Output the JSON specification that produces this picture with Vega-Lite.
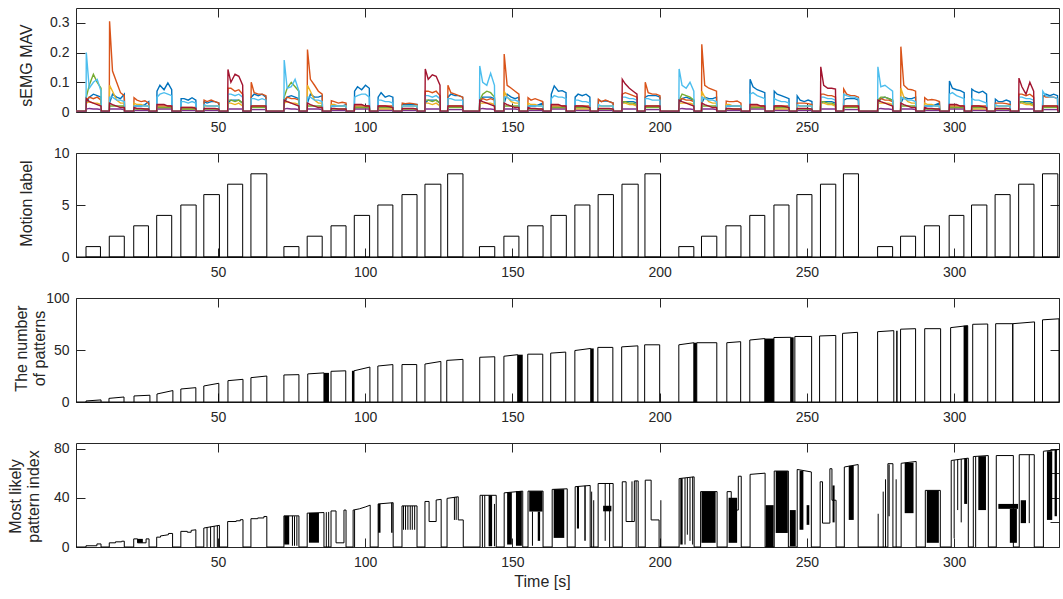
{
"$schema":"https://vega.github.io/schema/vega-lite/v6.json",
"padding":{"left":7,"top":7,"right":5,"bottom":5},
"background":"white",
"spacing":41,
"bounds":"flush",
"config":{
 "font":"Liberation Sans",
 "view":{"stroke":null},
 "axis":{"labelFont":"Liberation Sans","titleFont":"Liberation Sans","labelFontSize":14,"titleFontSize":16,"titleFontWeight":"normal","labelColor":"#262626","titleColor":"#262626","domainColor":"#262626","domainWidth":1,"tickColor":"#262626","tickWidth":1,"tickSize":-9,"labelPadding":16,"grid":false}
},
"datasets":{
"emg":[
{"t":1.8,"a":0.002,"b":0.002,"c":0.002,"d":0.002,"e":0.002,"f":0.002,"g":0.003},
{"t":5.2,"a":0.002,"b":0.002,"c":0.002,"d":0.002,"e":0.002,"f":0.002,"g":0.003},
{"t":5.3,"a":0.03,"b":0.04,"c":0.03,"d":0.01,"e":0.05,"f":0.2,"g":0.045},
{"t":6.3,"a":0.05,"b":0.05,"c":0.035,"d":0.012,"e":0.09,"f":0.08,"g":0.035},
{"t":7.7,"a":0.06,"b":0.045,"c":0.03,"d":0.01,"e":0.127,"f":0.1,"g":0.03},
{"t":9.0,"a":0.055,"b":0.05,"c":0.03,"d":0.01,"e":0.1,"f":0.11,"g":0.025},
{"t":10.3,"a":0.05,"b":0.04,"c":0.025,"d":0.008,"e":0.08,"f":0.07,"g":0.02},
{"t":10.4,"a":0.002,"b":0.002,"c":0.002,"d":0.002,"e":0.002,"f":0.002,"g":0.003},
{"t":13.1,"a":0.002,"b":0.002,"c":0.002,"d":0.002,"e":0.002,"f":0.002,"g":0.003},
{"t":13.2,"a":0.03,"b":0.305,"c":0.09,"d":0.01,"e":0.02,"f":0.05,"g":0.03},
{"t":14.2,"a":0.06,"b":0.138,"c":0.07,"d":0.01,"e":0.02,"f":0.05,"g":0.025},
{"t":15.6,"a":0.05,"b":0.1,"c":0.04,"d":0.01,"e":0.02,"f":0.04,"g":0.02},
{"t":16.9,"a":0.045,"b":0.065,"c":0.03,"d":0.01,"e":0.02,"f":0.04,"g":0.015},
{"t":18.2,"a":0.06,"b":0.055,"c":0.03,"d":0.008,"e":0.02,"f":0.035,"g":0.015},
{"t":18.3,"a":0.002,"b":0.002,"c":0.002,"d":0.002,"e":0.002,"f":0.002,"g":0.003},
{"t":21.4,"a":0.002,"b":0.002,"c":0.002,"d":0.002,"e":0.002,"f":0.002,"g":0.003},
{"t":21.5,"a":0.02,"b":0.048,"c":0.03,"d":0.005,"e":0.01,"f":0.02,"g":0.015},
{"t":22.5,"a":0.02,"b":0.04,"c":0.025,"d":0.005,"e":0.01,"f":0.02,"g":0.012},
{"t":23.9,"a":0.02,"b":0.035,"c":0.025,"d":0.005,"e":0.01,"f":0.02,"g":0.012},
{"t":25.2,"a":0.025,"b":0.038,"c":0.02,"d":0.005,"e":0.01,"f":0.02,"g":0.01},
{"t":26.5,"a":0.035,"b":0.03,"c":0.02,"d":0.005,"e":0.01,"f":0.02,"g":0.01},
{"t":26.6,"a":0.002,"b":0.002,"c":0.002,"d":0.002,"e":0.002,"f":0.002,"g":0.003},
{"t":29.2,"a":0.002,"b":0.002,"c":0.002,"d":0.002,"e":0.002,"f":0.002,"g":0.003},
{"t":29.3,"a":0.07,"b":0.02,"c":0.015,"d":0.01,"e":0.015,"f":0.05,"g":0.025},
{"t":30.3,"a":0.09,"b":0.02,"c":0.015,"d":0.01,"e":0.015,"f":0.06,"g":0.025},
{"t":31.7,"a":0.075,"b":0.02,"c":0.015,"d":0.01,"e":0.015,"f":0.065,"g":0.025},
{"t":33.0,"a":0.098,"b":0.02,"c":0.015,"d":0.01,"e":0.015,"f":0.06,"g":0.02},
{"t":34.3,"a":0.075,"b":0.02,"c":0.015,"d":0.01,"e":0.015,"f":0.055,"g":0.02},
{"t":34.4,"a":0.002,"b":0.002,"c":0.002,"d":0.002,"e":0.002,"f":0.002,"g":0.003},
{"t":37.4,"a":0.002,"b":0.002,"c":0.002,"d":0.002,"e":0.002,"f":0.002,"g":0.003},
{"t":37.5,"a":0.045,"b":0.015,"c":0.01,"d":0.005,"e":0.01,"f":0.035,"g":0.015},
{"t":38.5,"a":0.045,"b":0.015,"c":0.01,"d":0.005,"e":0.01,"f":0.035,"g":0.015},
{"t":39.9,"a":0.04,"b":0.015,"c":0.01,"d":0.005,"e":0.01,"f":0.03,"g":0.015},
{"t":41.2,"a":0.048,"b":0.015,"c":0.01,"d":0.005,"e":0.01,"f":0.035,"g":0.015},
{"t":42.5,"a":0.04,"b":0.015,"c":0.01,"d":0.005,"e":0.01,"f":0.03,"g":0.012},
{"t":42.6,"a":0.002,"b":0.002,"c":0.002,"d":0.002,"e":0.002,"f":0.002,"g":0.003},
{"t":45.2,"a":0.002,"b":0.002,"c":0.002,"d":0.002,"e":0.002,"f":0.002,"g":0.003},
{"t":45.3,"a":0.035,"b":0.04,"c":0.02,"d":0.005,"e":0.01,"f":0.025,"g":0.012},
{"t":46.3,"a":0.03,"b":0.035,"c":0.02,"d":0.005,"e":0.01,"f":0.02,"g":0.012},
{"t":47.7,"a":0.035,"b":0.04,"c":0.02,"d":0.005,"e":0.01,"f":0.02,"g":0.012},
{"t":49.0,"a":0.035,"b":0.035,"c":0.02,"d":0.005,"e":0.01,"f":0.02,"g":0.012},
{"t":50.3,"a":0.03,"b":0.03,"c":0.02,"d":0.005,"e":0.01,"f":0.02,"g":0.01},
{"t":50.4,"a":0.002,"b":0.002,"c":0.002,"d":0.002,"e":0.002,"f":0.002,"g":0.003},
{"t":53.3,"a":0.002,"b":0.002,"c":0.002,"d":0.002,"e":0.002,"f":0.002,"g":0.003},
{"t":53.4,"a":0.03,"b":0.08,"c":0.03,"d":0.01,"e":0.04,"f":0.06,"g":0.143},
{"t":54.4,"a":0.04,"b":0.08,"c":0.03,"d":0.01,"e":0.04,"f":0.06,"g":0.1},
{"t":55.8,"a":0.04,"b":0.07,"c":0.025,"d":0.01,"e":0.035,"f":0.055,"g":0.127},
{"t":57.1,"a":0.04,"b":0.075,"c":0.03,"d":0.01,"e":0.04,"f":0.06,"g":0.12},
{"t":58.4,"a":0.03,"b":0.06,"c":0.02,"d":0.01,"e":0.03,"f":0.05,"g":0.09},
{"t":58.5,"a":0.002,"b":0.002,"c":0.002,"d":0.002,"e":0.002,"f":0.002,"g":0.003},
{"t":61.2,"a":0.002,"b":0.002,"c":0.002,"d":0.002,"e":0.002,"f":0.002,"g":0.003},
{"t":61.3,"a":0.05,"b":0.1,"c":0.02,"d":0.008,"e":0.015,"f":0.045,"g":0.02},
{"t":62.3,"a":0.06,"b":0.065,"c":0.02,"d":0.008,"e":0.015,"f":0.045,"g":0.02},
{"t":63.7,"a":0.055,"b":0.06,"c":0.02,"d":0.008,"e":0.015,"f":0.04,"g":0.02},
{"t":65.0,"a":0.06,"b":0.06,"c":0.02,"d":0.008,"e":0.015,"f":0.045,"g":0.02},
{"t":66.3,"a":0.05,"b":0.055,"c":0.02,"d":0.008,"e":0.015,"f":0.04,"g":0.02},
{"t":66.4,"a":0.002,"b":0.002,"c":0.002,"d":0.002,"e":0.002,"f":0.002,"g":0.003},
{"t":72.4,"a":0.002,"b":0.002,"c":0.002,"d":0.002,"e":0.002,"f":0.002,"g":0.003},
{"t":72.5,"a":0.03,"b":0.04,"c":0.03,"d":0.01,"e":0.05,"f":0.175,"g":0.04},
{"t":73.5,"a":0.05,"b":0.05,"c":0.035,"d":0.012,"e":0.08,"f":0.08,"g":0.035},
{"t":74.9,"a":0.055,"b":0.045,"c":0.03,"d":0.01,"e":0.1,"f":0.085,"g":0.03},
{"t":76.2,"a":0.05,"b":0.045,"c":0.03,"d":0.01,"e":0.085,"f":0.11,"g":0.025},
{"t":77.5,"a":0.045,"b":0.04,"c":0.025,"d":0.008,"e":0.07,"f":0.07,"g":0.02},
{"t":77.6,"a":0.002,"b":0.002,"c":0.002,"d":0.002,"e":0.002,"f":0.002,"g":0.003},
{"t":80.3,"a":0.002,"b":0.002,"c":0.002,"d":0.002,"e":0.002,"f":0.002,"g":0.003},
{"t":80.4,"a":0.03,"b":0.21,"c":0.09,"d":0.01,"e":0.02,"f":0.05,"g":0.03},
{"t":81.4,"a":0.06,"b":0.11,"c":0.07,"d":0.01,"e":0.02,"f":0.05,"g":0.025},
{"t":82.8,"a":0.05,"b":0.09,"c":0.04,"d":0.01,"e":0.02,"f":0.04,"g":0.02},
{"t":84.1,"a":0.05,"b":0.07,"c":0.03,"d":0.01,"e":0.02,"f":0.04,"g":0.015},
{"t":85.4,"a":0.055,"b":0.06,"c":0.03,"d":0.008,"e":0.02,"f":0.035,"g":0.015},
{"t":85.5,"a":0.002,"b":0.002,"c":0.002,"d":0.002,"e":0.002,"f":0.002,"g":0.003},
{"t":88.4,"a":0.002,"b":0.002,"c":0.002,"d":0.002,"e":0.002,"f":0.002,"g":0.003},
{"t":88.5,"a":0.02,"b":0.038,"c":0.025,"d":0.005,"e":0.01,"f":0.02,"g":0.012},
{"t":89.5,"a":0.02,"b":0.035,"c":0.025,"d":0.005,"e":0.01,"f":0.02,"g":0.012},
{"t":90.9,"a":0.02,"b":0.03,"c":0.02,"d":0.005,"e":0.01,"f":0.02,"g":0.01},
{"t":92.2,"a":0.02,"b":0.033,"c":0.02,"d":0.005,"e":0.01,"f":0.02,"g":0.01},
{"t":93.5,"a":0.025,"b":0.03,"c":0.02,"d":0.005,"e":0.01,"f":0.02,"g":0.01},
{"t":93.6,"a":0.002,"b":0.002,"c":0.002,"d":0.002,"e":0.002,"f":0.002,"g":0.003},
{"t":96.3,"a":0.002,"b":0.002,"c":0.002,"d":0.002,"e":0.002,"f":0.002,"g":0.003},
{"t":96.4,"a":0.07,"b":0.02,"c":0.015,"d":0.01,"e":0.015,"f":0.05,"g":0.025},
{"t":97.4,"a":0.085,"b":0.02,"c":0.015,"d":0.01,"e":0.015,"f":0.055,"g":0.025},
{"t":98.8,"a":0.075,"b":0.02,"c":0.015,"d":0.01,"e":0.015,"f":0.06,"g":0.025},
{"t":100.1,"a":0.09,"b":0.02,"c":0.015,"d":0.01,"e":0.015,"f":0.06,"g":0.02},
{"t":101.4,"a":0.08,"b":0.02,"c":0.015,"d":0.01,"e":0.015,"f":0.05,"g":0.02},
{"t":101.5,"a":0.002,"b":0.002,"c":0.002,"d":0.002,"e":0.002,"f":0.002,"g":0.003},
{"t":104.3,"a":0.002,"b":0.002,"c":0.002,"d":0.002,"e":0.002,"f":0.002,"g":0.003},
{"t":104.4,"a":0.05,"b":0.02,"c":0.01,"d":0.005,"e":0.015,"f":0.04,"g":0.02},
{"t":105.4,"a":0.065,"b":0.02,"c":0.01,"d":0.005,"e":0.015,"f":0.04,"g":0.02},
{"t":106.8,"a":0.05,"b":0.02,"c":0.01,"d":0.005,"e":0.015,"f":0.035,"g":0.02},
{"t":108.1,"a":0.055,"b":0.02,"c":0.01,"d":0.005,"e":0.015,"f":0.035,"g":0.018},
{"t":109.4,"a":0.05,"b":0.02,"c":0.01,"d":0.005,"e":0.015,"f":0.03,"g":0.015},
{"t":109.5,"a":0.002,"b":0.002,"c":0.002,"d":0.002,"e":0.002,"f":0.002,"g":0.003},
{"t":112.5,"a":0.002,"b":0.002,"c":0.002,"d":0.002,"e":0.002,"f":0.002,"g":0.003},
{"t":112.6,"a":0.025,"b":0.03,"c":0.02,"d":0.005,"e":0.01,"f":0.02,"g":0.012},
{"t":113.6,"a":0.025,"b":0.028,"c":0.02,"d":0.005,"e":0.01,"f":0.02,"g":0.012},
{"t":115.0,"a":0.025,"b":0.03,"c":0.02,"d":0.005,"e":0.01,"f":0.02,"g":0.012},
{"t":116.3,"a":0.025,"b":0.028,"c":0.02,"d":0.005,"e":0.01,"f":0.02,"g":0.012},
{"t":117.6,"a":0.025,"b":0.025,"c":0.02,"d":0.005,"e":0.01,"f":0.02,"g":0.01},
{"t":117.7,"a":0.002,"b":0.002,"c":0.002,"d":0.002,"e":0.002,"f":0.002,"g":0.003},
{"t":120.3,"a":0.002,"b":0.002,"c":0.002,"d":0.002,"e":0.002,"f":0.002,"g":0.003},
{"t":120.4,"a":0.03,"b":0.07,"c":0.03,"d":0.01,"e":0.04,"f":0.055,"g":0.145},
{"t":121.4,"a":0.04,"b":0.07,"c":0.03,"d":0.01,"e":0.04,"f":0.055,"g":0.11},
{"t":122.8,"a":0.04,"b":0.065,"c":0.025,"d":0.01,"e":0.035,"f":0.05,"g":0.125},
{"t":124.1,"a":0.04,"b":0.07,"c":0.03,"d":0.01,"e":0.04,"f":0.055,"g":0.12},
{"t":125.4,"a":0.03,"b":0.055,"c":0.02,"d":0.01,"e":0.03,"f":0.045,"g":0.09},
{"t":125.5,"a":0.002,"b":0.002,"c":0.002,"d":0.002,"e":0.002,"f":0.002,"g":0.003},
{"t":128.0,"a":0.002,"b":0.002,"c":0.002,"d":0.002,"e":0.002,"f":0.002,"g":0.003},
{"t":128.1,"a":0.05,"b":0.09,"c":0.02,"d":0.008,"e":0.015,"f":0.045,"g":0.02},
{"t":129.1,"a":0.06,"b":0.065,"c":0.02,"d":0.008,"e":0.015,"f":0.045,"g":0.02},
{"t":130.5,"a":0.055,"b":0.06,"c":0.02,"d":0.008,"e":0.015,"f":0.04,"g":0.02},
{"t":131.8,"a":0.055,"b":0.055,"c":0.02,"d":0.008,"e":0.015,"f":0.04,"g":0.02},
{"t":133.1,"a":0.05,"b":0.05,"c":0.02,"d":0.008,"e":0.015,"f":0.04,"g":0.02},
{"t":133.2,"a":0.002,"b":0.002,"c":0.002,"d":0.002,"e":0.002,"f":0.002,"g":0.003},
{"t":138.8,"a":0.002,"b":0.002,"c":0.002,"d":0.002,"e":0.002,"f":0.002,"g":0.003},
{"t":138.9,"a":0.03,"b":0.04,"c":0.03,"d":0.01,"e":0.04,"f":0.155,"g":0.04},
{"t":139.9,"a":0.05,"b":0.045,"c":0.03,"d":0.012,"e":0.06,"f":0.1,"g":0.035},
{"t":141.3,"a":0.05,"b":0.04,"c":0.03,"d":0.01,"e":0.07,"f":0.09,"g":0.03},
{"t":142.6,"a":0.05,"b":0.045,"c":0.03,"d":0.01,"e":0.065,"f":0.13,"g":0.025},
{"t":143.9,"a":0.045,"b":0.04,"c":0.025,"d":0.008,"e":0.05,"f":0.09,"g":0.02},
{"t":144.0,"a":0.002,"b":0.002,"c":0.002,"d":0.002,"e":0.002,"f":0.002,"g":0.003},
{"t":147.1,"a":0.002,"b":0.002,"c":0.002,"d":0.002,"e":0.002,"f":0.002,"g":0.003},
{"t":147.2,"a":0.03,"b":0.195,"c":0.07,"d":0.01,"e":0.02,"f":0.05,"g":0.03},
{"t":148.2,"a":0.06,"b":0.09,"c":0.05,"d":0.01,"e":0.02,"f":0.05,"g":0.025},
{"t":149.6,"a":0.05,"b":0.08,"c":0.035,"d":0.01,"e":0.02,"f":0.04,"g":0.02},
{"t":150.9,"a":0.045,"b":0.07,"c":0.03,"d":0.01,"e":0.02,"f":0.04,"g":0.015},
{"t":152.2,"a":0.05,"b":0.06,"c":0.03,"d":0.008,"e":0.02,"f":0.035,"g":0.015},
{"t":152.3,"a":0.002,"b":0.002,"c":0.002,"d":0.002,"e":0.002,"f":0.002,"g":0.003},
{"t":155.2,"a":0.002,"b":0.002,"c":0.002,"d":0.002,"e":0.002,"f":0.002,"g":0.003},
{"t":155.3,"a":0.02,"b":0.048,"c":0.03,"d":0.005,"e":0.01,"f":0.02,"g":0.015},
{"t":156.3,"a":0.02,"b":0.04,"c":0.025,"d":0.005,"e":0.01,"f":0.02,"g":0.012},
{"t":157.7,"a":0.02,"b":0.045,"c":0.025,"d":0.005,"e":0.01,"f":0.02,"g":0.012},
{"t":159.0,"a":0.025,"b":0.04,"c":0.02,"d":0.005,"e":0.01,"f":0.02,"g":0.01},
{"t":160.3,"a":0.03,"b":0.035,"c":0.02,"d":0.005,"e":0.01,"f":0.02,"g":0.01},
{"t":160.4,"a":0.002,"b":0.002,"c":0.002,"d":0.002,"e":0.002,"f":0.002,"g":0.003},
{"t":163.1,"a":0.002,"b":0.002,"c":0.002,"d":0.002,"e":0.002,"f":0.002,"g":0.003},
{"t":163.2,"a":0.06,"b":0.02,"c":0.015,"d":0.01,"e":0.015,"f":0.045,"g":0.025},
{"t":164.2,"a":0.088,"b":0.02,"c":0.015,"d":0.01,"e":0.015,"f":0.055,"g":0.025},
{"t":165.6,"a":0.07,"b":0.02,"c":0.015,"d":0.01,"e":0.015,"f":0.05,"g":0.025},
{"t":166.9,"a":0.072,"b":0.02,"c":0.015,"d":0.01,"e":0.015,"f":0.05,"g":0.02},
{"t":168.2,"a":0.065,"b":0.02,"c":0.015,"d":0.01,"e":0.015,"f":0.045,"g":0.02},
{"t":168.3,"a":0.002,"b":0.002,"c":0.002,"d":0.002,"e":0.002,"f":0.002,"g":0.003},
{"t":171.2,"a":0.002,"b":0.002,"c":0.002,"d":0.002,"e":0.002,"f":0.002,"g":0.003},
{"t":171.3,"a":0.05,"b":0.02,"c":0.01,"d":0.005,"e":0.015,"f":0.04,"g":0.02},
{"t":172.3,"a":0.06,"b":0.02,"c":0.01,"d":0.005,"e":0.015,"f":0.04,"g":0.02},
{"t":173.7,"a":0.055,"b":0.02,"c":0.01,"d":0.005,"e":0.015,"f":0.035,"g":0.02},
{"t":175.0,"a":0.06,"b":0.02,"c":0.01,"d":0.005,"e":0.015,"f":0.035,"g":0.018},
{"t":176.3,"a":0.05,"b":0.02,"c":0.01,"d":0.005,"e":0.015,"f":0.03,"g":0.015},
{"t":176.4,"a":0.002,"b":0.002,"c":0.002,"d":0.002,"e":0.002,"f":0.002,"g":0.003},
{"t":179.1,"a":0.002,"b":0.002,"c":0.002,"d":0.002,"e":0.002,"f":0.002,"g":0.003},
{"t":179.2,"a":0.04,"b":0.043,"c":0.02,"d":0.005,"e":0.01,"f":0.025,"g":0.012},
{"t":180.2,"a":0.035,"b":0.035,"c":0.02,"d":0.005,"e":0.01,"f":0.02,"g":0.012},
{"t":181.6,"a":0.038,"b":0.04,"c":0.02,"d":0.005,"e":0.01,"f":0.02,"g":0.012},
{"t":182.9,"a":0.035,"b":0.035,"c":0.02,"d":0.005,"e":0.01,"f":0.02,"g":0.012},
{"t":184.2,"a":0.03,"b":0.03,"c":0.02,"d":0.005,"e":0.01,"f":0.02,"g":0.01},
{"t":184.3,"a":0.002,"b":0.002,"c":0.002,"d":0.002,"e":0.002,"f":0.002,"g":0.003},
{"t":187.2,"a":0.002,"b":0.002,"c":0.002,"d":0.002,"e":0.002,"f":0.002,"g":0.003},
{"t":187.3,"a":0.03,"b":0.06,"c":0.03,"d":0.01,"e":0.035,"f":0.05,"g":0.11},
{"t":188.3,"a":0.035,"b":0.065,"c":0.03,"d":0.01,"e":0.035,"f":0.05,"g":0.095},
{"t":189.7,"a":0.035,"b":0.06,"c":0.025,"d":0.01,"e":0.03,"f":0.045,"g":0.08},
{"t":191.0,"a":0.035,"b":0.055,"c":0.025,"d":0.01,"e":0.03,"f":0.045,"g":0.07},
{"t":192.3,"a":0.03,"b":0.05,"c":0.02,"d":0.01,"e":0.025,"f":0.04,"g":0.06},
{"t":192.4,"a":0.002,"b":0.002,"c":0.002,"d":0.002,"e":0.002,"f":0.002,"g":0.003},
{"t":195.0,"a":0.002,"b":0.002,"c":0.002,"d":0.002,"e":0.002,"f":0.002,"g":0.003},
{"t":195.1,"a":0.05,"b":0.1,"c":0.02,"d":0.008,"e":0.015,"f":0.045,"g":0.02},
{"t":196.1,"a":0.055,"b":0.065,"c":0.02,"d":0.008,"e":0.015,"f":0.045,"g":0.02},
{"t":197.5,"a":0.055,"b":0.06,"c":0.02,"d":0.008,"e":0.015,"f":0.04,"g":0.02},
{"t":198.8,"a":0.055,"b":0.06,"c":0.02,"d":0.008,"e":0.015,"f":0.04,"g":0.02},
{"t":200.1,"a":0.05,"b":0.055,"c":0.02,"d":0.008,"e":0.015,"f":0.04,"g":0.02},
{"t":200.2,"a":0.002,"b":0.002,"c":0.002,"d":0.002,"e":0.002,"f":0.002,"g":0.003},
{"t":206.5,"a":0.002,"b":0.002,"c":0.002,"d":0.002,"e":0.002,"f":0.002,"g":0.003},
{"t":206.6,"a":0.03,"b":0.04,"c":0.03,"d":0.01,"e":0.04,"f":0.145,"g":0.04},
{"t":207.6,"a":0.045,"b":0.045,"c":0.03,"d":0.012,"e":0.06,"f":0.09,"g":0.035},
{"t":209.0,"a":0.05,"b":0.04,"c":0.03,"d":0.01,"e":0.055,"f":0.08,"g":0.03},
{"t":210.3,"a":0.045,"b":0.04,"c":0.03,"d":0.01,"e":0.05,"f":0.1,"g":0.025},
{"t":211.6,"a":0.04,"b":0.035,"c":0.025,"d":0.008,"e":0.04,"f":0.07,"g":0.02},
{"t":211.7,"a":0.002,"b":0.002,"c":0.002,"d":0.002,"e":0.002,"f":0.002,"g":0.003},
{"t":214.2,"a":0.002,"b":0.002,"c":0.002,"d":0.002,"e":0.002,"f":0.002,"g":0.003},
{"t":214.3,"a":0.03,"b":0.228,"c":0.07,"d":0.01,"e":0.02,"f":0.05,"g":0.03},
{"t":215.3,"a":0.05,"b":0.09,"c":0.05,"d":0.01,"e":0.02,"f":0.045,"g":0.025},
{"t":216.7,"a":0.045,"b":0.08,"c":0.035,"d":0.01,"e":0.02,"f":0.04,"g":0.02},
{"t":218.0,"a":0.045,"b":0.075,"c":0.03,"d":0.01,"e":0.02,"f":0.04,"g":0.015},
{"t":219.3,"a":0.05,"b":0.07,"c":0.03,"d":0.008,"e":0.02,"f":0.035,"g":0.015},
{"t":219.4,"a":0.002,"b":0.002,"c":0.002,"d":0.002,"e":0.002,"f":0.002,"g":0.003},
{"t":222.5,"a":0.002,"b":0.002,"c":0.002,"d":0.002,"e":0.002,"f":0.002,"g":0.003},
{"t":222.6,"a":0.02,"b":0.037,"c":0.025,"d":0.005,"e":0.01,"f":0.02,"g":0.012},
{"t":223.6,"a":0.02,"b":0.035,"c":0.025,"d":0.005,"e":0.01,"f":0.02,"g":0.012},
{"t":225.0,"a":0.02,"b":0.035,"c":0.02,"d":0.005,"e":0.01,"f":0.02,"g":0.01},
{"t":226.3,"a":0.02,"b":0.037,"c":0.02,"d":0.005,"e":0.01,"f":0.02,"g":0.01},
{"t":227.6,"a":0.02,"b":0.03,"c":0.02,"d":0.005,"e":0.01,"f":0.02,"g":0.01},
{"t":227.7,"a":0.002,"b":0.002,"c":0.002,"d":0.002,"e":0.002,"f":0.002,"g":0.003},
{"t":230.6,"a":0.002,"b":0.002,"c":0.002,"d":0.002,"e":0.002,"f":0.002,"g":0.003},
{"t":230.7,"a":0.11,"b":0.02,"c":0.015,"d":0.01,"e":0.015,"f":0.06,"g":0.025},
{"t":231.7,"a":0.085,"b":0.02,"c":0.015,"d":0.01,"e":0.015,"f":0.065,"g":0.025},
{"t":233.1,"a":0.075,"b":0.02,"c":0.015,"d":0.01,"e":0.015,"f":0.055,"g":0.025},
{"t":234.4,"a":0.07,"b":0.02,"c":0.015,"d":0.01,"e":0.015,"f":0.05,"g":0.02},
{"t":235.7,"a":0.065,"b":0.02,"c":0.015,"d":0.01,"e":0.015,"f":0.045,"g":0.02},
{"t":235.8,"a":0.002,"b":0.002,"c":0.002,"d":0.002,"e":0.002,"f":0.002,"g":0.003},
{"t":238.8,"a":0.002,"b":0.002,"c":0.002,"d":0.002,"e":0.002,"f":0.002,"g":0.003},
{"t":238.9,"a":0.07,"b":0.02,"c":0.01,"d":0.005,"e":0.015,"f":0.045,"g":0.02},
{"t":239.9,"a":0.06,"b":0.02,"c":0.01,"d":0.005,"e":0.015,"f":0.04,"g":0.02},
{"t":241.3,"a":0.055,"b":0.02,"c":0.01,"d":0.005,"e":0.015,"f":0.035,"g":0.02},
{"t":242.6,"a":0.05,"b":0.02,"c":0.01,"d":0.005,"e":0.015,"f":0.035,"g":0.018},
{"t":243.9,"a":0.045,"b":0.02,"c":0.01,"d":0.005,"e":0.015,"f":0.03,"g":0.015},
{"t":244.0,"a":0.002,"b":0.002,"c":0.002,"d":0.002,"e":0.002,"f":0.002,"g":0.003},
{"t":246.6,"a":0.002,"b":0.002,"c":0.002,"d":0.002,"e":0.002,"f":0.002,"g":0.003},
{"t":246.7,"a":0.054,"b":0.03,"c":0.02,"d":0.005,"e":0.01,"f":0.025,"g":0.012},
{"t":247.7,"a":0.04,"b":0.03,"c":0.02,"d":0.005,"e":0.01,"f":0.02,"g":0.012},
{"t":249.1,"a":0.035,"b":0.03,"c":0.02,"d":0.005,"e":0.01,"f":0.02,"g":0.012},
{"t":250.4,"a":0.04,"b":0.028,"c":0.02,"d":0.005,"e":0.01,"f":0.02,"g":0.012},
{"t":251.7,"a":0.035,"b":0.025,"c":0.02,"d":0.005,"e":0.01,"f":0.02,"g":0.01},
{"t":251.8,"a":0.002,"b":0.002,"c":0.002,"d":0.002,"e":0.002,"f":0.002,"g":0.003},
{"t":254.6,"a":0.002,"b":0.002,"c":0.002,"d":0.002,"e":0.002,"f":0.002,"g":0.003},
{"t":254.7,"a":0.03,"b":0.06,"c":0.03,"d":0.01,"e":0.035,"f":0.05,"g":0.152},
{"t":255.7,"a":0.035,"b":0.06,"c":0.03,"d":0.01,"e":0.035,"f":0.05,"g":0.09},
{"t":257.1,"a":0.035,"b":0.055,"c":0.025,"d":0.01,"e":0.03,"f":0.045,"g":0.08},
{"t":258.4,"a":0.035,"b":0.055,"c":0.025,"d":0.01,"e":0.03,"f":0.045,"g":0.08},
{"t":259.7,"a":0.03,"b":0.05,"c":0.02,"d":0.01,"e":0.025,"f":0.04,"g":0.077},
{"t":259.8,"a":0.002,"b":0.002,"c":0.002,"d":0.002,"e":0.002,"f":0.002,"g":0.003},
{"t":262.4,"a":0.002,"b":0.002,"c":0.002,"d":0.002,"e":0.002,"f":0.002,"g":0.003},
{"t":262.5,"a":0.04,"b":0.077,"c":0.02,"d":0.008,"e":0.015,"f":0.06,"g":0.02},
{"t":263.5,"a":0.045,"b":0.06,"c":0.02,"d":0.008,"e":0.015,"f":0.055,"g":0.02},
{"t":264.9,"a":0.045,"b":0.055,"c":0.02,"d":0.008,"e":0.015,"f":0.05,"g":0.02},
{"t":266.2,"a":0.045,"b":0.055,"c":0.02,"d":0.008,"e":0.015,"f":0.05,"g":0.02},
{"t":267.5,"a":0.04,"b":0.05,"c":0.02,"d":0.008,"e":0.015,"f":0.045,"g":0.02},
{"t":267.6,"a":0.002,"b":0.002,"c":0.002,"d":0.002,"e":0.002,"f":0.002,"g":0.003},
{"t":274.0,"a":0.002,"b":0.002,"c":0.002,"d":0.002,"e":0.002,"f":0.002,"g":0.003},
{"t":274.1,"a":0.03,"b":0.04,"c":0.03,"d":0.01,"e":0.04,"f":0.152,"g":0.04},
{"t":275.1,"a":0.045,"b":0.045,"c":0.03,"d":0.012,"e":0.05,"f":0.085,"g":0.035},
{"t":276.5,"a":0.05,"b":0.04,"c":0.03,"d":0.01,"e":0.05,"f":0.09,"g":0.03},
{"t":277.8,"a":0.045,"b":0.04,"c":0.03,"d":0.01,"e":0.045,"f":0.08,"g":0.025},
{"t":279.1,"a":0.04,"b":0.035,"c":0.025,"d":0.008,"e":0.04,"f":0.07,"g":0.02},
{"t":279.2,"a":0.002,"b":0.002,"c":0.002,"d":0.002,"e":0.002,"f":0.002,"g":0.003},
{"t":281.8,"a":0.002,"b":0.002,"c":0.002,"d":0.002,"e":0.002,"f":0.002,"g":0.003},
{"t":281.9,"a":0.03,"b":0.22,"c":0.08,"d":0.01,"e":0.02,"f":0.05,"g":0.03},
{"t":282.9,"a":0.05,"b":0.09,"c":0.05,"d":0.01,"e":0.02,"f":0.045,"g":0.025},
{"t":284.3,"a":0.045,"b":0.077,"c":0.035,"d":0.01,"e":0.02,"f":0.04,"g":0.02},
{"t":285.6,"a":0.045,"b":0.075,"c":0.03,"d":0.01,"e":0.02,"f":0.04,"g":0.015},
{"t":286.9,"a":0.05,"b":0.07,"c":0.03,"d":0.008,"e":0.02,"f":0.035,"g":0.015},
{"t":287.0,"a":0.002,"b":0.002,"c":0.002,"d":0.002,"e":0.002,"f":0.002,"g":0.003},
{"t":289.9,"a":0.002,"b":0.002,"c":0.002,"d":0.002,"e":0.002,"f":0.002,"g":0.003},
{"t":290.0,"a":0.02,"b":0.048,"c":0.03,"d":0.005,"e":0.01,"f":0.02,"g":0.015},
{"t":291.0,"a":0.02,"b":0.04,"c":0.025,"d":0.005,"e":0.01,"f":0.02,"g":0.012},
{"t":292.4,"a":0.02,"b":0.042,"c":0.025,"d":0.005,"e":0.01,"f":0.02,"g":0.012},
{"t":293.7,"a":0.025,"b":0.04,"c":0.02,"d":0.005,"e":0.01,"f":0.02,"g":0.01},
{"t":295.0,"a":0.03,"b":0.035,"c":0.02,"d":0.005,"e":0.01,"f":0.02,"g":0.01},
{"t":295.1,"a":0.002,"b":0.002,"c":0.002,"d":0.002,"e":0.002,"f":0.002,"g":0.003},
{"t":298.3,"a":0.002,"b":0.002,"c":0.002,"d":0.002,"e":0.002,"f":0.002,"g":0.003},
{"t":298.4,"a":0.104,"b":0.02,"c":0.015,"d":0.01,"e":0.015,"f":0.06,"g":0.025},
{"t":299.4,"a":0.08,"b":0.02,"c":0.015,"d":0.01,"e":0.015,"f":0.065,"g":0.025},
{"t":300.8,"a":0.075,"b":0.02,"c":0.015,"d":0.01,"e":0.015,"f":0.055,"g":0.025},
{"t":302.1,"a":0.072,"b":0.02,"c":0.015,"d":0.01,"e":0.015,"f":0.05,"g":0.02},
{"t":303.4,"a":0.065,"b":0.02,"c":0.015,"d":0.01,"e":0.015,"f":0.045,"g":0.02},
{"t":303.5,"a":0.002,"b":0.002,"c":0.002,"d":0.002,"e":0.002,"f":0.002,"g":0.003},
{"t":305.9,"a":0.002,"b":0.002,"c":0.002,"d":0.002,"e":0.002,"f":0.002,"g":0.003},
{"t":306.0,"a":0.077,"b":0.02,"c":0.01,"d":0.005,"e":0.015,"f":0.045,"g":0.02},
{"t":307.0,"a":0.07,"b":0.02,"c":0.01,"d":0.005,"e":0.015,"f":0.04,"g":0.02},
{"t":308.4,"a":0.065,"b":0.02,"c":0.01,"d":0.005,"e":0.015,"f":0.04,"g":0.02},
{"t":309.7,"a":0.07,"b":0.02,"c":0.01,"d":0.005,"e":0.015,"f":0.035,"g":0.018},
{"t":311.0,"a":0.06,"b":0.02,"c":0.01,"d":0.005,"e":0.015,"f":0.03,"g":0.015},
{"t":311.1,"a":0.002,"b":0.002,"c":0.002,"d":0.002,"e":0.002,"f":0.002,"g":0.003},
{"t":313.9,"a":0.002,"b":0.002,"c":0.002,"d":0.002,"e":0.002,"f":0.002,"g":0.003},
{"t":314.0,"a":0.043,"b":0.03,"c":0.02,"d":0.005,"e":0.01,"f":0.025,"g":0.012},
{"t":315.0,"a":0.035,"b":0.03,"c":0.02,"d":0.005,"e":0.01,"f":0.02,"g":0.012},
{"t":316.4,"a":0.035,"b":0.03,"c":0.02,"d":0.005,"e":0.01,"f":0.02,"g":0.012},
{"t":317.7,"a":0.04,"b":0.028,"c":0.02,"d":0.005,"e":0.01,"f":0.02,"g":0.012},
{"t":319.0,"a":0.035,"b":0.025,"c":0.02,"d":0.005,"e":0.01,"f":0.02,"g":0.01},
{"t":319.1,"a":0.002,"b":0.002,"c":0.002,"d":0.002,"e":0.002,"f":0.002,"g":0.003},
{"t":321.9,"a":0.002,"b":0.002,"c":0.002,"d":0.002,"e":0.002,"f":0.002,"g":0.003},
{"t":322.0,"a":0.03,"b":0.06,"c":0.03,"d":0.01,"e":0.035,"f":0.05,"g":0.114},
{"t":323.0,"a":0.035,"b":0.06,"c":0.03,"d":0.01,"e":0.035,"f":0.05,"g":0.085},
{"t":324.4,"a":0.035,"b":0.055,"c":0.025,"d":0.01,"e":0.03,"f":0.045,"g":0.06},
{"t":325.7,"a":0.035,"b":0.06,"c":0.025,"d":0.01,"e":0.03,"f":0.045,"g":0.1},
{"t":327.0,"a":0.03,"b":0.05,"c":0.02,"d":0.01,"e":0.025,"f":0.04,"g":0.07},
{"t":327.1,"a":0.002,"b":0.002,"c":0.002,"d":0.002,"e":0.002,"f":0.002,"g":0.003},
{"t":330.0,"a":0.002,"b":0.002,"c":0.002,"d":0.002,"e":0.002,"f":0.002,"g":0.003},
{"t":330.1,"a":0.05,"b":0.055,"c":0.02,"d":0.008,"e":0.015,"f":0.07,"g":0.02},
{"t":331.1,"a":0.06,"b":0.05,"c":0.02,"d":0.008,"e":0.015,"f":0.055,"g":0.02},
{"t":332.5,"a":0.055,"b":0.05,"c":0.02,"d":0.008,"e":0.015,"f":0.05,"g":0.02},
{"t":333.8,"a":0.06,"b":0.05,"c":0.02,"d":0.008,"e":0.015,"f":0.05,"g":0.02},
{"t":335.1,"a":0.055,"b":0.045,"c":0.02,"d":0.008,"e":0.015,"f":0.045,"g":0.02},
{"t":335.2,"a":0.002,"b":0.002,"c":0.002,"d":0.002,"e":0.002,"f":0.002,"g":0.003},
{"t":335.6,"a":0.002,"b":0.002,"c":0.002,"d":0.002,"e":0.002,"f":0.002,"g":0.003}
],
"ml":[
{"s":5.2,"e":10.1,"m":1},{"s":13.1,"e":18.2,"m":2},{"s":21.4,"e":26.4,"m":3},{"s":29.2,"e":34.3,"m":4},{"s":37.4,"e":42.6,"m":5},{"s":45.2,"e":50.5,"m":6},{"s":53.3,"e":58.4,"m":7},{"s":61.2,"e":66.6,"m":8},
{"s":72.4,"e":77.5,"m":1},{"s":80.3,"e":85.4,"m":2},{"s":88.4,"e":93.5,"m":3},{"s":96.3,"e":101.5,"m":4},{"s":104.3,"e":109.4,"m":5},{"s":112.5,"e":117.6,"m":6},{"s":120.3,"e":125.7,"m":7},{"s":128.0,"e":133.2,"m":8},
{"s":138.8,"e":144.0,"m":1},{"s":147.1,"e":152.2,"m":2},{"s":155.2,"e":160.4,"m":3},{"s":163.1,"e":168.3,"m":4},{"s":171.2,"e":176.3,"m":5},{"s":179.1,"e":184.3,"m":6},{"s":187.2,"e":192.7,"m":7},{"s":195.0,"e":200.3,"m":8},
{"s":206.5,"e":211.6,"m":1},{"s":214.2,"e":219.4,"m":2},{"s":222.5,"e":227.6,"m":3},{"s":230.6,"e":235.7,"m":4},{"s":238.8,"e":243.9,"m":5},{"s":246.6,"e":251.7,"m":6},{"s":254.6,"e":259.8,"m":7},{"s":262.4,"e":267.5,"m":8},
{"s":274.0,"e":279.1,"m":1},{"s":281.8,"e":286.9,"m":2},{"s":289.9,"e":295.0,"m":3},{"s":298.3,"e":303.3,"m":4},{"s":305.9,"e":311.1,"m":5},{"s":313.9,"e":319.0,"m":6},{"s":321.9,"e":327.1,"m":7},{"s":330.0,"e":335.2,"m":8}
],
"p3":[
{"s":5.2,"e":10.3,"a":1,"b":2},{"s":13.0,"e":18.1,"a":3.5,"b":4.8},{"s":21.5,"e":26.9,"a":5.8,"b":6.5},{"s":29.3,"e":34.7,"a":7.7,"b":11},{"s":37.4,"e":42.5,"a":12.5,"b":13.8},{"s":45.2,"e":50.3,"a":15.4,"b":18},{"s":53.4,"e":58.5,"a":20.5,"b":21.8},{"s":61.2,"e":66.6,"a":23.4,"b":25},
{"s":72.4,"e":77.5,"a":26,"b":26.3},{"s":80.5,"e":86.0,"a":27,"b":28},{"s":88.4,"e":93.4,"a":29.5,"b":30},{"s":96.2,"e":101.6,"a":30,"b":33.6},{"s":104.3,"e":109.4,"a":34.6,"b":36},{"s":112.5,"e":117.5,"a":36,"b":36},{"s":120.3,"e":125.7,"a":36.5,"b":39},{"s":127.7,"e":133.2,"a":40,"b":41},
{"s":138.9,"e":144.0,"a":43,"b":43.5},{"s":147.1,"e":151.8,"a":44,"b":45.5},{"s":155.2,"e":160.3,"a":46,"b":46},{"s":163.0,"e":168.1,"a":47,"b":48},{"s":171.2,"e":176.6,"a":49.5,"b":51.5},{"s":179.0,"e":184.1,"a":52.5,"b":52.5},{"s":187.1,"e":192.6,"a":53,"b":54},{"s":194.9,"e":200.0,"a":55,"b":55},
{"s":206.5,"e":211.6,"a":55,"b":57},{"s":212.6,"e":219.4,"a":57,"b":57},{"s":222.8,"e":227.5,"a":57,"b":58},{"s":230.6,"e":235.7,"a":59.6,"b":61},{"s":238.8,"e":244.5,"a":62,"b":62.2},{"s":245.9,"e":251.6,"a":63,"b":63},{"s":254.3,"e":259.8,"a":63.5,"b":64},{"s":262.1,"e":267.2,"a":66,"b":67},
{"s":274.0,"e":279.5,"a":67.6,"b":68.6},{"s":281.8,"e":286.9,"a":70,"b":70.5},{"s":290.0,"e":295.4,"a":70.5,"b":70.5},{"s":298.8,"e":304.6,"a":71.5,"b":73.4},{"s":306.3,"e":311.4,"a":74.7,"b":75},{"s":314.1,"e":319.9,"a":75.3,"b":75.3},{"s":319.9,"e":327.3,"a":75.3,"b":77},{"s":330.0,"e":335.6,"a":79,"b":80}
],
"p3k":[
{"s":86.0,"e":87.7,"h":28},{"s":95.5,"e":96.2,"h":30},{"s":151.8,"e":153.5,"h":45.5},{"s":176.6,"e":177.6,"h":51.5},{"s":211.6,"e":212.6,"h":57},{"s":235.7,"e":238.8,"h":61},{"s":244.5,"e":245.5,"h":62.2},{"s":280.3,"e":280.8,"h":68.6},{"s":303.2,"e":304.6,"h":73.4}
],
"p4":[
{"t":1.8,"v":0},
{"t":5.2,"v":0},{"t":5.2,"v":1},{"t":8.9,"v":1},{"t":8.9,"v":2.5},{"t":10.3,"v":2.5},{"t":10.3,"v":0},
{"t":13.1,"v":0},{"t":13.1,"v":3.4},{"t":15.2,"v":3.4},{"t":15.2,"v":4.2},{"t":17.3,"v":4.2},{"t":17.3,"v":4.7},{"t":18.2,"v":4.7},{"t":18.2,"v":0},
{"t":21.4,"v":0},{"t":21.4,"v":6.6},{"t":22.7,"v":6.6},{"t":22.7,"v":3.4},{"t":25.6,"v":3.4},{"t":25.6,"v":6.6},{"t":26.6,"v":6.6},{"t":26.6,"v":0},
{"t":29.2,"v":0},{"t":29.2,"v":8},{"t":30.5,"v":8},{"t":30.5,"v":9},{"t":32,"v":9.5},{"t":33.2,"v":10},{"t":33.2,"v":11},{"t":34.6,"v":11},{"t":34.6,"v":0},
{"t":37.4,"v":0},{"t":37.4,"v":12.7},{"t":39.6,"v":12.7},{"t":39.6,"v":12},{"t":40.9,"v":12},{"t":40.9,"v":13.5},{"t":42.5,"v":14},{"t":42.5,"v":0},
{"t":45.2,"v":0},{"t":45.2,"v":15.4},{"t":50.5,"v":17.6},{"t":50.5,"v":0},
{"t":53.3,"v":0},{"t":53.3,"v":20.7},{"t":56.2,"v":20.7},{"t":56.2,"v":21.3},{"t":57.6,"v":21.3},{"t":57.6,"v":22.2},{"t":58.5,"v":22.2},{"t":58.5,"v":0},
{"t":61.2,"v":0},{"t":61.2,"v":23},{"t":63.5,"v":23},{"t":63.5,"v":23.6},{"t":65.6,"v":23.6},{"t":65.6,"v":24.8},{"t":66.6,"v":24.8},{"t":66.6,"v":0},
{"t":72.4,"v":0},{"t":72.4,"v":25.3},{"t":77.5,"v":25.3},{"t":77.5,"v":0},
{"t":80.3,"v":0},{"t":80.3,"v":27.5},{"t":86.0,"v":28},{"t":86.0,"v":0},
{"t":88.4,"v":0},{"t":88.4,"v":29.3},{"t":90.1,"v":29.3},{"t":90.1,"v":3.4},{"t":92.8,"v":3.4},{"t":92.8,"v":30},{"t":93.5,"v":30},{"t":93.5,"v":0},
{"t":95.9,"v":0},{"t":95.9,"v":30},{"t":98,"v":31},{"t":100,"v":32.5},{"t":101.7,"v":34},{"t":101.7,"v":0},
{"t":104.4,"v":0},{"t":104.4,"v":35},{"t":109.5,"v":36},{"t":109.5,"v":0},
{"t":112.5,"v":0},{"t":112.5,"v":33.4},{"t":117.6,"v":33.4},{"t":117.6,"v":0},
{"t":120.3,"v":0},{"t":120.3,"v":37},{"t":121.7,"v":37},{"t":121.7,"v":20.7},{"t":124.1,"v":20.7},{"t":124.1,"v":38.2},{"t":125.8,"v":38.7},{"t":125.8,"v":0},
{"t":127.8,"v":0},{"t":127.8,"v":39.5},{"t":131.6,"v":40.8},{"t":131.6,"v":22},{"t":133.3,"v":22},{"t":133.3,"v":0},
{"t":139.0,"v":0},{"t":139.0,"v":42},{"t":144.5,"v":42},{"t":144.5,"v":0},
{"t":147.2,"v":0},{"t":147.2,"v":44},{"t":153.5,"v":45.4},{"t":153.5,"v":0},
{"t":155.3,"v":0},{"t":155.3,"v":45.4},{"t":160.4,"v":45.4},{"t":160.4,"v":0},
{"t":163.5,"v":0},{"t":163.5,"v":46.8},{"t":168.6,"v":47.3},{"t":168.6,"v":0},
{"t":171.3,"v":0},{"t":171.3,"v":49},{"t":176.4,"v":50},{"t":176.4,"v":0},
{"t":179.1,"v":0},{"t":179.1,"v":51.6},{"t":184.2,"v":51.6},{"t":184.2,"v":0},
{"t":187.3,"v":0},{"t":187.3,"v":53},{"t":188.6,"v":53},{"t":188.6,"v":20.7},{"t":191.4,"v":20.7},{"t":191.4,"v":53.7},{"t":192.7,"v":53.7},{"t":192.7,"v":0},
{"t":195.1,"v":0},{"t":195.1,"v":54.3},{"t":197.1,"v":54.3},{"t":197.1,"v":22},{"t":199.8,"v":22},{"t":199.8,"v":0},
{"t":206.6,"v":0},{"t":206.6,"v":55.6},{"t":211.7,"v":57},{"t":211.7,"v":0},
{"t":213.9,"v":0},{"t":213.9,"v":45},{"t":219.5,"v":45},{"t":219.5,"v":0},
{"t":222.9,"v":0},{"t":222.9,"v":45},{"t":224.3,"v":45},{"t":224.3,"v":38},{"t":225.3,"v":38},{"t":225.3,"v":30},{"t":226.7,"v":30},{"t":226.7,"v":57.5},{"t":227.7,"v":57.5},{"t":227.7,"v":0},
{"t":230.7,"v":0},{"t":230.7,"v":59},{"t":235.8,"v":60},{"t":235.8,"v":0},
{"t":238.9,"v":0},{"t":238.9,"v":61.7},{"t":243.7,"v":61.7},{"t":243.7,"v":0},
{"t":246.7,"v":0},{"t":246.7,"v":63},{"t":251.5,"v":61},{"t":251.5,"v":0},
{"t":254.5,"v":0},{"t":254.5,"v":53},{"t":255.3,"v":53},{"t":255.3,"v":19.4},{"t":257.8,"v":19.4},{"t":257.8,"v":63.6},{"t":258.5,"v":63.6},{"t":258.5,"v":38},{"t":259.9,"v":38},{"t":259.9,"v":0},
{"t":262.7,"v":0},{"t":262.7,"v":65},{"t":267.4,"v":67},{"t":267.4,"v":0},
{"t":277.5,"v":0},{"t":277.5,"v":67.7},{"t":279.2,"v":67.7},{"t":279.2,"v":0},
{"t":282.0,"v":0},{"t":282.0,"v":68},{"t":287.1,"v":69.5},{"t":287.1,"v":0},
{"t":290.2,"v":0},{"t":290.2,"v":46},{"t":295.3,"v":46},{"t":295.3,"v":0},
{"t":299.0,"v":0},{"t":299.0,"v":70.3},{"t":304.8,"v":72.2},{"t":304.8,"v":0},
{"t":306.5,"v":0},{"t":306.5,"v":73.5},{"t":311.6,"v":74.3},{"t":311.6,"v":0},
{"t":314.3,"v":0},{"t":314.3,"v":74.3},{"t":320.1,"v":74.3},{"t":320.1,"v":0},
{"t":322.1,"v":0},{"t":322.1,"v":75},{"t":327.2,"v":75},{"t":327.2,"v":0},
{"t":330.3,"v":0},{"t":330.3,"v":77.8},{"t":335.6,"v":79.2}
],
"p4k":[
{"s":22.7,"e":24.5,"lo":3.4,"hi":6.6},{"s":72.5,"e":74.2,"lo":2,"hi":25.3},{"s":80.9,"e":84.3,"lo":3.5,"hi":27.7},{"s":104.4,"e":105.2,"lo":11.6,"hi":35},{"s":108.8,"e":109.3,"lo":11.6,"hi":36},
{"s":141.9,"e":143.1,"lo":0.6,"hi":42},{"s":148.2,"e":149.8,"lo":2,"hi":44.5},{"s":151.2,"e":153.2,"lo":1,"hi":45.4},{"s":155.7,"e":160.2,"lo":28.8,"hi":45.4},{"s":158.6,"e":159.4,"lo":5,"hi":28.8},
{"s":164.0,"e":167.6,"lo":7.4,"hi":47},{"s":171.9,"e":172.6,"lo":15,"hi":49.3},{"s":174.4,"e":174.9,"lo":5,"hi":49.8},{"s":180.8,"e":183.6,"lo":29,"hi":33.5},{"s":207.0,"e":207.8,"lo":2,"hi":55.8},
{"s":214.2,"e":219.0,"lo":3.4,"hi":45},{"s":223.4,"e":226.3,"lo":3.4,"hi":40},{"s":236.0,"e":238.7,"lo":0,"hi":34},{"s":239.4,"e":243.5,"lo":11.4,"hi":61.7},{"s":244.2,"e":246.2,"lo":0.6,"hi":30},
{"s":247.5,"e":248.8,"lo":14,"hi":62},{"s":249.9,"e":250.8,"lo":18,"hi":34},{"s":258.7,"e":259.4,"lo":20,"hi":50},{"s":264.2,"e":265.9,"lo":22,"hi":66},{"s":277.7,"e":278.1,"lo":25,"hi":67},
{"s":283.2,"e":286.2,"lo":27.5,"hi":68.5},{"s":290.7,"e":294.8,"lo":3.4,"hi":46},{"s":303.4,"e":304.4,"lo":35,"hi":72},{"s":308.2,"e":310.8,"lo":30,"hi":73.8},{"s":315.0,"e":321.7,"lo":31,"hi":35},
{"s":318.9,"e":321.3,"lo":3.4,"hi":31},{"s":322.6,"e":324.4,"lo":19.4,"hi":38},{"s":331.5,"e":333.3,"lo":22,"hi":77.8},{"s":334.1,"e":334.9,"lo":25,"hi":79}
],
"p4v":[
{"t":46.3,"lo":0,"hi":15.9},{"t":47.5,"lo":0,"hi":16.5},{"t":48.7,"lo":0,"hi":17},{"t":49.8,"lo":0,"hi":17.3},
{"t":75.3,"lo":1,"hi":25.3},{"t":76.0,"lo":1,"hi":25},{"t":76.8,"lo":1,"hi":25},
{"t":86.8,"lo":0,"hi":28.3},{"t":87.6,"lo":0,"hi":28.5},{"t":96.4,"lo":0,"hi":30},
{"t":113.0,"lo":14,"hi":33.4},{"t":113.7,"lo":14,"hi":33.4},{"t":114.5,"lo":14,"hi":33.4},{"t":115.3,"lo":14,"hi":33.4},{"t":116.0,"lo":14,"hi":33.4},{"t":116.8,"lo":14,"hi":33.4},
{"t":130.3,"lo":22,"hi":40.5},{"t":130.9,"lo":22,"hi":40.6},
{"t":139.8,"lo":0,"hi":42},{"t":140.6,"lo":0,"hi":42},{"t":143.9,"lo":0.6,"hi":35},
{"t":156.8,"lo":1,"hi":28.8},{"t":176.9,"lo":0,"hi":45},{"t":177.6,"lo":0,"hi":38},
{"t":181.5,"lo":5,"hi":51.6},{"t":183.0,"lo":0,"hi":51.6},{"t":190.6,"lo":20.7,"hi":53.3},{"t":192.0,"lo":0,"hi":53.7},{"t":200.4,"lo":0,"hi":38},
{"t":208.6,"lo":2,"hi":56},{"t":209.4,"lo":10,"hi":56.2},{"t":210.3,"lo":5,"hi":56.5},{"t":211.2,"lo":2,"hi":57},
{"t":274.2,"lo":0,"hi":27},{"t":275.9,"lo":0,"hi":45},{"t":276.7,"lo":0,"hi":55},{"t":280.3,"lo":0,"hi":55},
{"t":300.0,"lo":7,"hi":70.5},{"t":301.2,"lo":30,"hi":71},{"t":302.4,"lo":20,"hi":71.5},{"t":307.3,"lo":0,"hi":73.7},{"t":325.5,"lo":19.4,"hi":75}
]
},
"vconcat":[
{
 "width":983,"height":104,
 "layer":[
  {"data":{"name":"emg"},"transform":[{"fold":["a","b","c","d","e","f","g"],"as":["ch","v"]}],
   "mark":{"type":"line","strokeWidth":1.4,"clip":true},
   "encoding":{
    "x":{"field":"t","type":"quantitative","scale":{"domain":[1.8,335.6],"nice":false,"zero":false},"axis":{"orient":"bottom","values":[50,100,150,200,250,300],"title":null,"labelPadding":17}},
    "y":{"field":"v","type":"quantitative","scale":{"domain":[0,0.35],"nice":false},"axis":{"values":[0,0.1,0.2,0.3],"format":"~g","title":"sEMG MAV","titleX":-42,"titleY":57}},
    "color":{"field":"ch","type":"nominal","scale":{"domain":["a","b","c","d","e","f","g"],"range":["#0072BD","#D95319","#EDB120","#7E2F8E","#77AC30","#4DBEEE","#A2142F"]},"legend":null}
   }},
  {"data":{"values":[{}]},"mark":{"type":"point","opacity":0},
   "encoding":{
    "x":{"datum":100,"type":"quantitative","scale":{"domain":[1.8,335.6],"nice":false,"zero":false},"axis":{"orient":"top","values":[50,100,150,200,250,300],"labels":false,"title":null}},
    "y":{"datum":0,"type":"quantitative","scale":{"domain":[0,0.35],"nice":false},"axis":{"orient":"right","values":[0,0.1,0.2,0.3],"labels":false,"title":null}}
   }}
 ],
 "resolve":{"axis":{"x":"independent","y":"independent"}}
},
{
 "width":983,"height":104,
 "layer":[
  {"layer":[
   {"data":{"name":"ml"},"mark":{"type":"rect","filled":false,"color":"#000","strokeWidth":1},
    "encoding":{
     "x":{"field":"s","type":"quantitative","scale":{"domain":[1.8,335.6],"nice":false,"zero":false},"axis":{"orient":"bottom","values":[50,100,150,200,250,300],"title":null,"labelPadding":17}},
     "x2":{"field":"e"},
     "y":{"field":"m","type":"quantitative","scale":{"domain":[0,10],"nice":false},"axis":{"values":[0,5,10],"title":"Motion label","titleX":-42,"titleY":50}},
     "y2":{"datum":0}
    }},
   {"data":{"values":[{}]},"mark":{"type":"rule","color":"#000","strokeWidth":1},"encoding":{"y":{"datum":0,"type":"quantitative"}}}
  ]},
  {"data":{"values":[{}]},"mark":{"type":"point","opacity":0},
   "encoding":{
    "x":{"datum":100,"type":"quantitative","scale":{"domain":[1.8,335.6],"nice":false,"zero":false},"axis":{"orient":"top","values":[50,100,150,200,250,300],"labels":false,"title":null}},
    "y":{"datum":0,"type":"quantitative","scale":{"domain":[0,10],"nice":false},"axis":{"orient":"right","values":[0,5,10],"labels":false,"title":null}}
   }}
 ],
 "resolve":{"axis":{"x":"independent","y":"independent"}}
},
{
 "width":983,"height":104,
 "layer":[
  {"layer":[
   {"data":{"name":"p3"},"mark":{"type":"rule","color":"#000","strokeWidth":1},
    "encoding":{
     "x":{"field":"s","type":"quantitative","scale":{"domain":[1.8,335.6],"nice":false,"zero":false},"axis":{"orient":"bottom","values":[50,100,150,200,250,300],"title":null,"labelPadding":17}},
     "y":{"field":"a","type":"quantitative","scale":{"domain":[0,100],"nice":false},"axis":{"values":[0,50,100],"title":["The number","of patterns"],"titleX":-47,"titleY":50}},
     "y2":{"datum":0}
    }},
   {"data":{"name":"p3"},"mark":{"type":"rule","color":"#000","strokeWidth":1},
    "encoding":{"x":{"field":"e","type":"quantitative"},"y":{"field":"b","type":"quantitative"},"y2":{"datum":0}}},
   {"data":{"name":"p3"},"mark":{"type":"rule","color":"#000","strokeWidth":1},
    "encoding":{"x":{"field":"s","type":"quantitative"},"x2":{"field":"e"},"y":{"field":"a","type":"quantitative"},"y2":{"field":"b"}}},
   {"data":{"name":"p3k"},"mark":{"type":"rect","color":"#000"},
    "encoding":{"x":{"field":"s","type":"quantitative"},"x2":{"field":"e"},"y":{"field":"h","type":"quantitative"},"y2":{"datum":0}}},
   {"data":{"values":[{}]},"mark":{"type":"rule","color":"#000","strokeWidth":1},"encoding":{"y":{"datum":0,"type":"quantitative"}}}
  ]},
  {"data":{"values":[{}]},"mark":{"type":"point","opacity":0},
   "encoding":{
    "x":{"datum":100,"type":"quantitative","scale":{"domain":[1.8,335.6],"nice":false,"zero":false},"axis":{"orient":"top","values":[50,100,150,200,250,300],"labels":false,"title":null}},
    "y":{"datum":0,"type":"quantitative","scale":{"domain":[0,100],"nice":false},"axis":{"orient":"right","values":[0,50,100],"labels":false,"title":null}}
   }}
 ],
 "resolve":{"axis":{"x":"independent","y":"independent"}}
},
{
 "width":983,"height":104,
 "layer":[
  {"layer":[
   {"data":{"name":"p4"},"mark":{"type":"line","color":"#000","strokeWidth":1},
    "encoding":{
     "x":{"field":"t","type":"quantitative","scale":{"domain":[1.8,335.6],"nice":false,"zero":false},"axis":{"orient":"bottom","values":[50,100,150,200,250,300],"title":"Time [s]","labelPadding":17,"titleX":466}},
     "y":{"field":"v","type":"quantitative","scale":{"domain":[0,84.5],"nice":false},"axis":{"values":[0,20,40,60,80],"title":["Most likely","pattern index"],"titleX":-53,"titleY":53}},
     "order":{"value":null}
    }},
   {"data":{"name":"p4k"},"mark":{"type":"rect","color":"#000"},
    "encoding":{"x":{"field":"s","type":"quantitative"},"x2":{"field":"e"},"y":{"field":"lo","type":"quantitative"},"y2":{"field":"hi"}}},
   {"data":{"name":"p4v"},"mark":{"type":"rule","color":"#000","strokeWidth":1},
    "encoding":{"x":{"field":"t","type":"quantitative"},"y":{"field":"lo","type":"quantitative"},"y2":{"field":"hi"}}}
  ]},
  {"data":{"values":[{}]},"mark":{"type":"point","opacity":0},
   "encoding":{
    "x":{"datum":100,"type":"quantitative","scale":{"domain":[1.8,335.6],"nice":false,"zero":false},"axis":{"orient":"top","values":[50,100,150,200,250,300],"labels":false,"title":null}},
    "y":{"datum":0,"type":"quantitative","scale":{"domain":[0,84.5],"nice":false},"axis":{"orient":"right","values":[0,20,40,60,80],"labels":false,"title":null}}
   }}
 ],
 "resolve":{"axis":{"x":"independent","y":"independent"}}
}
]
}
